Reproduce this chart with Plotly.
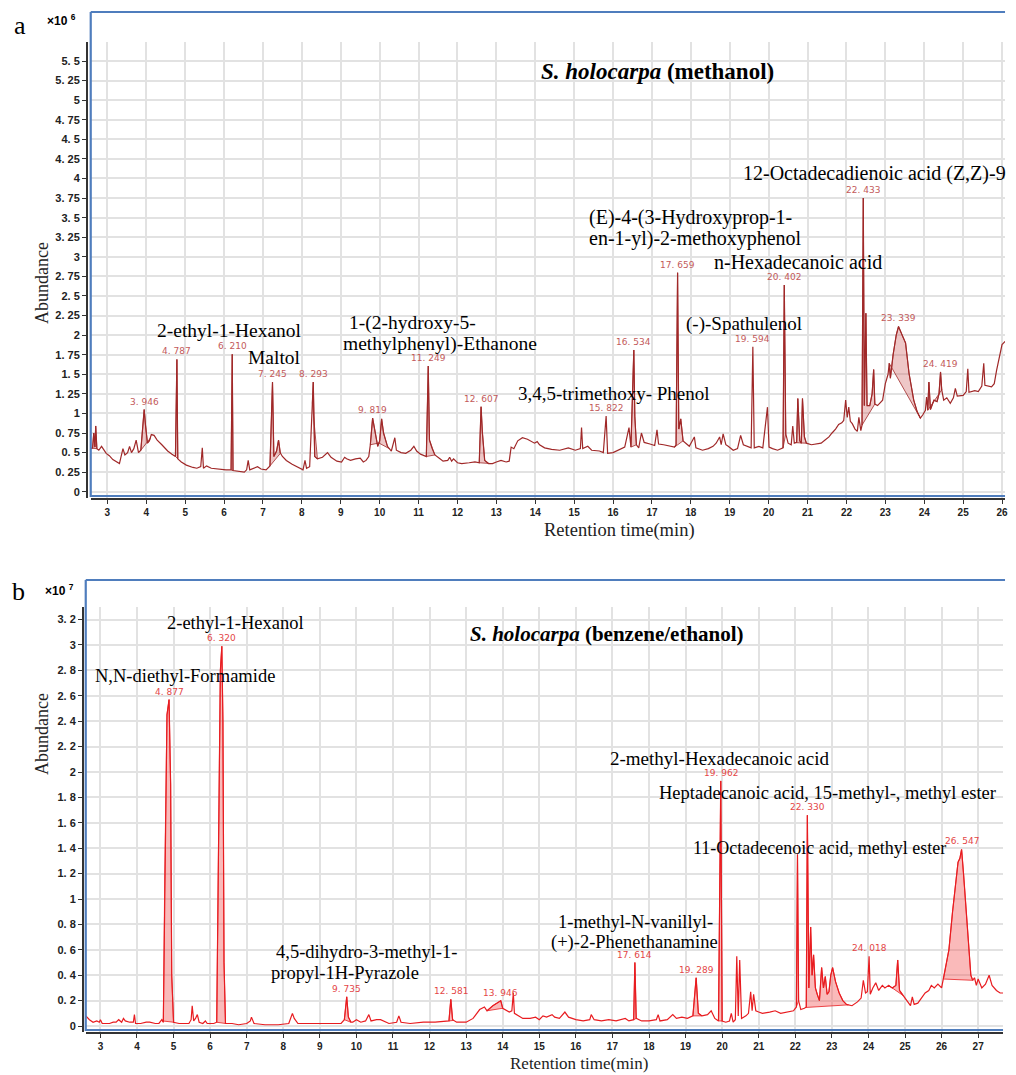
import numpy as np
import plotly.graph_objects as go

W, H = 1016, 1075

# ---------------- data: panel a (methanol) ----------------
t_a = [2.57, 2.62, 2.65, 2.68, 2.70, 2.73, 2.78, 2.85, 2.97, 3.05, 3.14, 3.25, 3.31, 3.40, 3.45, 3.52, 3.57,
       3.62, 3.68, 3.74, 3.80, 3.86, 3.90, 3.946, 3.98, 4.03, 4.08, 4.13, 4.20, 4.28, 4.40, 4.55, 4.66, 4.75,
       4.787, 4.81, 4.90, 5.03, 5.20, 5.30, 5.40, 5.44, 5.47, 5.55, 5.67, 5.80, 6.05, 6.18, 6.21, 6.23, 6.40,
       6.52, 6.58, 6.62, 6.66, 6.75, 6.86, 6.95, 7.08, 7.18, 7.245, 7.28, 7.35, 7.40, 7.44, 7.50, 7.60, 7.75,
       7.86, 8.03, 8.08, 8.12, 8.20, 8.293, 8.33, 8.40, 8.53, 8.66, 8.75, 8.90, 9.02, 9.10, 9.15, 9.25, 9.38,
       9.50, 9.58, 9.65, 9.72, 9.76, 9.819, 9.87, 9.95, 10.00, 10.05, 10.10, 10.20, 10.30, 10.39, 10.43, 10.55,
       10.67, 10.80, 10.88, 10.95, 11.05, 11.20, 11.249, 11.28, 11.35, 11.42, 11.55, 11.63, 11.75, 11.80, 11.85,
       11.90, 12.00, 12.11, 12.30, 12.45, 12.56, 12.607, 12.64, 12.70, 12.80, 12.90, 13.00, 13.12, 13.25, 13.33,
       13.38, 13.45, 13.55, 13.67, 13.80, 13.98, 14.05, 14.11, 14.24, 14.42, 14.63, 14.85, 15.03, 15.16, 15.19,
       15.22, 15.35, 15.45, 15.65, 15.75, 15.822, 15.86, 16.00, 16.12, 16.30, 16.41, 16.46, 16.534, 16.56, 16.60,
       16.66, 16.73, 16.80, 16.95, 17.07, 17.13, 17.17, 17.30, 17.45, 17.58, 17.62, 17.659, 17.69, 17.74, 17.80,
       17.90, 17.96, 18.09, 18.13, 18.30, 18.45, 18.57, 18.65, 18.74, 18.78, 18.83, 18.90, 18.96, 19.09, 19.20,
       19.28, 19.35, 19.45, 19.55, 19.594, 19.63, 19.75, 19.85, 19.97, 20.01, 20.10, 20.23, 20.37, 20.402, 20.44,
       20.50, 20.58, 20.62, 20.66, 20.72, 20.75, 20.80, 20.84, 20.87, 20.92, 20.97, 21.10, 21.19, 21.35, 21.45,
       21.55, 21.63, 21.72, 21.80, 21.88, 21.93, 21.98, 22.02, 22.06, 22.10, 22.15, 22.22, 22.28, 22.32, 22.37,
       22.40, 22.433, 22.46, 22.50, 22.53, 22.60, 22.66, 22.70, 22.73, 22.80, 22.93, 23.00, 23.07, 23.10, 23.13,
       23.20, 23.28, 23.339, 23.45, 23.52, 23.61, 23.73, 23.82, 23.90, 23.96, 24.03, 24.06, 24.09, 24.12, 24.16,
       24.25, 24.33, 24.38, 24.419, 24.45, 24.50, 24.58, 24.67, 24.75, 24.80, 24.85, 25.00, 25.08, 25.12, 25.15,
       25.30, 25.39, 25.48, 25.53, 25.56, 25.73, 25.80, 25.86, 25.93, 26.00, 26.08]
abund_a = [0.55, 0.56, 0.75, 0.57, 0.84, 0.55, 0.53, 0.58, 0.49, 0.46, 0.41, 0.38, 0.36, 0.55, 0.47, 0.50, 0.58,
           0.50, 0.55, 0.66, 0.50, 0.53, 0.80, 1.05, 0.85, 0.62, 0.65, 0.73, 0.72, 0.66, 0.60, 0.52, 0.48, 0.45,
           1.69, 0.42, 0.38, 0.34, 0.31, 0.30, 0.32, 0.56, 0.30, 0.33, 0.30, 0.29, 0.28, 0.28, 1.755, 0.27, 0.26,
           0.25, 0.28, 0.40, 0.28, 0.30, 0.32, 0.29, 0.28, 0.33, 1.40, 0.45, 0.52, 0.66, 0.50, 0.45, 0.40, 0.35,
           0.32, 0.28, 0.40, 0.30, 0.32, 1.40, 0.45, 0.42, 0.44, 0.50, 0.44, 0.39, 0.38, 0.44, 0.42, 0.40, 0.42,
           0.43, 0.38, 0.40, 0.45, 0.60, 0.94, 0.80, 0.58, 0.65, 0.93, 0.75, 0.58, 0.52, 0.69, 0.53, 0.50,
           0.49, 0.53, 0.58, 0.52, 0.48, 0.45, 1.605, 0.66, 0.55, 0.47, 0.42, 0.39, 0.40, 0.44, 0.39,
           0.42, 0.37, 0.36, 0.37, 0.38, 0.37, 1.086, 0.76, 0.40, 0.36, 0.36, 0.38, 0.40, 0.38, 0.39,
           0.57, 0.55, 0.65, 0.69, 0.67, 0.62, 0.64, 0.60, 0.56, 0.54, 0.53, 0.56, 0.53, 0.55, 0.82,
           0.55, 0.58, 0.53, 0.52, 0.50, 0.967, 0.49, 0.50, 0.53, 0.57, 0.82, 0.57, 1.81, 0.96, 0.60,
           0.56, 0.75, 0.63, 0.61, 0.59, 0.79, 0.61, 0.60, 0.58, 0.57, 0.60, 2.797, 0.80, 0.93, 0.65,
           0.60, 0.58, 0.70, 0.56, 0.53, 0.55, 0.58, 0.62, 0.70, 0.60, 0.74, 0.60, 0.58, 0.53, 0.55,
           0.72, 0.60, 0.58, 0.56, 1.85, 0.56, 0.58, 0.56, 1.08, 0.57, 0.55, 0.53, 0.56, 2.64, 0.74,
           0.62, 0.60, 0.84, 0.62, 0.63, 1.19, 0.65, 0.62, 1.19, 0.70, 0.62, 0.60, 0.61, 0.62, 0.66,
           0.70, 0.75, 0.80, 0.86, 0.88, 0.91, 1.17, 0.95, 1.08, 0.90, 0.87, 0.80, 0.77, 0.95, 0.78,
           0.85, 3.75, 1.10, 2.28, 1.10, 1.10, 1.25, 1.56, 1.12, 1.10, 1.17, 1.38, 1.50, 1.64, 1.45,
           1.75, 2.00, 2.11, 1.98, 1.90, 1.51, 1.17, 1.02, 0.94, 0.98, 1.04, 1.21, 1.04, 1.40, 1.05,
           1.17, 1.15, 1.25, 1.53, 1.30, 1.17, 1.20, 1.13, 1.20, 1.32, 1.22, 1.23, 1.28, 1.57, 1.27,
           1.29, 1.28, 1.35, 1.64, 1.36, 1.34, 1.38, 1.55, 1.72, 1.88, 1.92]
fill_start_a = [2.60, 3.86, 4.75, 6.18, 7.18, 8.27, 9.76, 9.98, 11.20, 12.56, 16.46, 17.58, 20.37, 20.70, 22.40, 23.10, 24.09]
fill_end_a = [2.73, 4.10, 4.82, 6.23, 7.45, 8.40, 9.98, 10.25, 11.42, 12.85, 16.60, 17.80, 20.44, 20.97, 22.73, 23.90, 24.45]
peak_rt_a = [3.946, 4.787, 6.210, 7.245, 8.293, 9.819, 11.249, 12.607, 15.822, 16.534, 17.659, 19.594, 20.402,
             22.433, 23.339, 24.419]
yticks_a = [i * 0.25 for i in range(23)]

# ---------------- data: panel b (benzene/ethanol) ----------------
t_b = [2.60, 2.70, 2.80, 2.90, 2.97, 3.00, 3.05, 3.25, 3.35, 3.43, 3.50, 3.58, 3.63, 3.68, 3.80, 3.90, 3.93,
       3.96, 4.10, 4.25, 4.35, 4.50, 4.60, 4.68, 4.72, 4.76, 4.82, 4.877, 4.92, 4.95, 5.00, 5.15, 5.30, 5.42,
       5.48, 5.51, 5.55, 5.60, 5.65, 5.70, 5.80, 5.87, 5.92, 6.10, 6.18, 6.23, 6.28, 6.32, 6.35, 6.38, 6.42,
       6.60, 6.78, 7.00, 7.10, 7.13, 7.20, 7.50, 7.86, 8.15, 8.25, 8.30, 8.40, 8.67, 8.90, 9.12, 9.40, 9.58,
       9.67, 9.735, 9.78, 9.85, 9.90, 10.00, 10.12, 10.25, 10.34, 10.40, 10.55, 10.66, 10.89, 11.10, 11.16,
       11.22, 11.47, 11.83, 12.15, 12.40, 12.53, 12.581, 12.63, 12.74, 13.00, 13.19, 13.37, 13.50, 13.57,
       13.73, 13.90, 13.946, 14.00, 14.10, 14.18, 14.25, 14.29, 14.32, 14.45, 14.55, 14.75, 14.90, 15.00,
       15.10, 15.20, 15.35, 15.42, 15.55, 15.70, 15.80, 16.00, 16.20, 16.38, 16.42, 16.50, 16.70, 16.90,
       17.10, 17.35, 17.45, 17.58, 17.614, 17.65, 17.80, 18.00, 18.20, 18.25, 18.30, 18.50, 18.65, 18.75,
       18.90, 19.05, 19.20, 19.289, 19.35, 19.45, 19.60, 19.70, 19.80, 19.90, 19.962, 20.00, 20.10, 20.20,
       20.25, 20.30, 20.36, 20.40, 20.44, 20.48, 20.53, 20.65, 20.72, 20.78, 20.82, 20.86, 20.92, 21.00,
       21.10, 21.30, 21.45, 21.60, 21.80, 21.95, 22.03, 22.06, 22.09, 22.15, 22.25, 22.30, 22.33, 22.37,
       22.42, 22.46, 22.50, 22.55, 22.60, 22.66, 22.72, 22.77, 22.82, 22.87, 22.92, 22.97, 23.02, 23.10,
       23.20, 23.30, 23.40, 23.55, 23.70, 23.80, 23.86, 23.92, 23.97, 24.018, 24.05, 24.12, 24.20, 24.28,
       24.38, 24.45, 24.55, 24.65, 24.75, 24.80, 24.85, 24.95, 25.05, 25.15, 25.20, 25.25, 25.35, 25.45,
       25.55, 25.65, 25.72, 25.80, 25.90, 26.00, 26.10, 26.20, 26.30, 26.40, 26.45, 26.50, 26.547, 26.60,
       26.68, 26.75, 26.80, 26.85, 26.90, 26.95, 27.00, 27.10, 27.20, 27.30, 27.38, 27.50, 27.60, 27.68]
abund_b = [0.08, 0.05, 0.03, 0.04, 0.03, 0.05, 0.02, 0.02, 0.03, 0.03, 0.05, 0.03, 0.06, 0.04, 0.03, 0.03, 0.09,
           0.02, 0.02, 0.03, 0.03, 0.02, 0.02, 0.05, 0.03, 1.20, 2.45, 2.57, 1.90, 0.40, 0.03, 0.02, 0.02, 0.02,
           0.05, 0.16, 0.04, 0.06, 0.09, 0.03, 0.02, 0.04, 0.02, 0.02, 0.03, 1.40, 2.80, 2.99, 2.40, 0.50, 0.02,
           0.02, 0.01, 0.02, 0.04, 0.07, 0.02, 0.01, 0.01, 0.02, 0.10, 0.06, 0.02, 0.02, 0.02, 0.02, 0.02, 0.02,
           0.05, 0.23, 0.07, 0.03, 0.03, 0.05, 0.03, 0.04, 0.09, 0.04, 0.05, 0.05, 0.02, 0.03, 0.08,
           0.03, 0.02, 0.03, 0.03, 0.04, 0.04, 0.21, 0.05, 0.03, 0.03, 0.06, 0.13, 0.15, 0.12,
           0.16, 0.19, 0.20, 0.14, 0.12, 0.11, 0.12, 0.26, 0.10, 0.08, 0.06, 0.06, 0.07, 0.05,
           0.08, 0.07, 0.09, 0.07, 0.06, 0.11, 0.07, 0.05, 0.04, 0.05, 0.09, 0.05, 0.04, 0.05,
           0.04, 0.06, 0.04, 0.05, 0.50, 0.06, 0.04, 0.04, 0.05, 0.09, 0.04, 0.05, 0.09, 0.06,
           0.07, 0.06, 0.08, 0.38, 0.10, 0.08, 0.09, 0.12, 0.06, 0.04, 1.93, 0.04, 0.03, 0.04,
           0.10, 0.03, 0.05, 0.55, 0.08, 0.52, 0.06, 0.08, 0.10, 0.27, 0.12, 0.25, 0.12, 0.11,
           0.10, 0.11, 0.12, 0.10, 0.11, 0.12, 0.15, 1.35, 0.20, 0.13, 0.14, 0.15, 1.66, 0.30,
           0.78, 0.40, 0.56, 0.30, 0.25, 0.20, 0.46, 0.30, 0.39, 0.25, 0.27, 0.40, 0.46, 0.35,
           0.26, 0.20, 0.17, 0.16, 0.19, 0.22, 0.36, 0.26, 0.27, 0.55, 0.25, 0.30, 0.34, 0.28,
           0.32, 0.30, 0.32, 0.30, 0.32, 0.52, 0.28, 0.24, 0.19, 0.16, 0.23, 0.17, 0.18, 0.22,
           0.26, 0.28, 0.32, 0.30, 0.33, 0.30, 0.44, 0.60, 0.90, 1.15, 1.29, 1.32, 1.39, 1.20,
           0.90, 0.62, 0.40, 0.36, 0.38, 0.32, 0.37, 0.30, 0.33, 0.40, 0.32, 0.28, 0.26, 0.26]
fill_start_b = [4.70, 6.18, 9.67, 12.53, 13.57, 17.58, 19.20, 19.90, 22.03, 22.28, 24.55, 26.05]
fill_end_b = [5.00, 6.42, 9.85, 12.66, 14.00, 17.65, 19.45, 20.00, 22.09, 23.45, 24.95, 26.85]
peak_rt_b = [4.877, 6.320, 9.735, 12.581, 13.946, 17.614, 19.289, 19.962, 22.330, 24.018, 26.547]
yticks_b = [round(i * 0.2, 1) for i in range(17)]

x_ticks_a = list(range(3, 27))
x_ticks_b = list(range(3, 28))


def px(x):
    return x / W


def py(y):
    return 1 - y / H


SERIF = "Liberation Serif, Times New Roman, serif"
SANS = "Liberation Sans, Arial, sans-serif"
LAB = "DejaVu Sans, Verdana, sans-serif"

col_a = "rgb(160,40,40)"
fill_a = "rgba(205,95,95,0.35)"
lab_a = "rgb(195,90,90)"
col_b = "rgb(232,28,32)"
fill_b = "rgba(242,90,90,0.42)"
lab_b = "rgb(228,70,70)"

fig = go.Figure()


def add_fills(t, v, starts, ends, color, line_color, xa, ya):
    t = np.asarray(t)
    v = np.asarray(v)
    for a, b in zip(starts, ends):
        va, vb = np.interp(a, t, v), np.interp(b, t, v)
        m = (t > a) & (t < b)
        xs = [a] + list(t[m]) + [b, a]
        ys = [va] + list(v[m]) + [vb, va]
        fig.add_trace(go.Scatter(x=xs, y=ys, mode="lines", fill="toself", fillcolor=color,
                                 line=dict(color=line_color, width=0.8), hoverinfo="skip",
                                 showlegend=False, xaxis=xa, yaxis=ya))


def tick_text(v):
    s = f"{v:g}"
    return s.replace(".", ". ")


add_fills(t_a, abund_a, fill_start_a, fill_end_a, fill_a, col_a, "x", "y")
fig.add_trace(go.Scatter(x=t_a, y=abund_a, mode="lines", line=dict(color=col_a, width=1.2),
                         showlegend=False, xaxis="x", yaxis="y"))
add_fills(t_b, abund_b, fill_start_b, fill_end_b, fill_b, col_b, "x2", "y2")
fig.add_trace(go.Scatter(x=t_b, y=abund_b, mode="lines", line=dict(color=col_b, width=1.2),
                         showlegend=False, xaxis="x2", yaxis="y2"))

grid = "#e2e2e2"
xtickfont = dict(family=SANS, size=10, color="#222", weight="bold")
ytickfont = dict(family=SANS, size=11, color="#222", weight="bold")
axline = "#333333"

fig.update_layout(
    width=W, height=H, autosize=False,
    margin=dict(l=0, r=0, t=0, b=0),
    paper_bgcolor="white", plot_bgcolor="white",
    showlegend=False,
    xaxis=dict(domain=[px(91), px(1008)], range=[2.572, 26.077], anchor="y",
               tickmode="array", tickvals=x_ticks_a, ticktext=[str(v) for v in x_ticks_a],
               ticks="outside", ticklen=4, tickcolor=axline, showline=True, linecolor=axline, linewidth=1.5,
               showgrid=True, gridcolor=grid, gridwidth=1.5, zeroline=False, tickfont=xtickfont),
    yaxis=dict(domain=[py(498), py(42)], range=[-0.08, 5.743], anchor="free", position=px(87),
               tickmode="array", tickvals=yticks_a, ticktext=[tick_text(v) for v in yticks_a],
               ticks="outside", ticklen=4, tickcolor=axline, showline=True, linecolor=axline, linewidth=1.5,
               showgrid=True, gridcolor=grid, gridwidth=1.5, zeroline=False, tickfont=ytickfont),
    xaxis2=dict(domain=[px(86), px(1006)], range=[2.599, 27.68], anchor="y2",
                tickmode="array", tickvals=x_ticks_b, ticktext=[str(v) for v in x_ticks_b],
                ticks="outside", ticklen=4, tickcolor=axline, showline=True, linecolor=axline, linewidth=1.5,
                showgrid=True, gridcolor=grid, gridwidth=1.5, zeroline=False, tickfont=xtickfont),
    yaxis2=dict(domain=[py(1032), py(607)], range=[-0.047, 3.299], anchor="free", position=px(83),
                tickmode="array", tickvals=yticks_b, ticktext=[tick_text(v) for v in yticks_b],
                ticks="outside", ticklen=4, tickcolor=axline, showline=True, linecolor=axline, linewidth=1.5,
                showgrid=True, gridcolor=grid, gridwidth=1.5, zeroline=False, tickfont=ytickfont),
)

# frames (blue borders)
blue = "rgb(79,125,189)"
frames = [
    (91, 12, 1008, 12), (91, 12, 91, 497), (91, 496, 1008, 496),
    (86, 580, 1008, 580), (86, 580, 86, 1031), (86, 1030, 1006, 1030),
]
for x0, y0, x1, y1 in frames:
    fig.add_shape(type="line", xref="paper", yref="paper", x0=px(x0), y0=py(y0), x1=px(x1), y1=py(y1),
                  line=dict(color=blue, width=2.2))

ann = []


def text(s, x, y, size=19.5, xanchor="center", color="black", family=SERIF, yanchor="middle"):
    ann.append(dict(text=s, x=px(x), y=py(y), xref="paper", yref="paper", showarrow=False,
                    xanchor=xanchor, yanchor=yanchor, font=dict(family=family, size=size, color=color)))


# panel letters, exponents, axis titles
text("a", 20, 25, size=26)
text("b", 19, 591, size=26)
text("<b>×10 <sup>6</sup></b>", 45, 20, size=12, xanchor="left", family=SANS)
text("<b>×10 <sup>7</sup></b>", 43, 590, size=12, xanchor="left", family=SANS)
ann.append(dict(text="Abundance", x=px(30), y=py(240), xref="paper", yref="paper", showarrow=False,
                textangle=-90, font=dict(family=SERIF, size=18, color="#222")))
ann.append(dict(text="Abundance", x=px(30), y=py(777), xref="paper", yref="paper", showarrow=False,
                textangle=-90, font=dict(family=SERIF, size=18, color="#222")))
text("Retention time(min)", 621, 530, size=18.5, color="#222")
text("Retention time(min)", 581, 1063, size=17, color="#222")

# titles
text("<b><i>S. holocarpa</i> (methanol)</b>", 659, 72, size=23)
text("<b><i>S. holocarpa</i> (benzene/ethanol)</b>", 609, 634, size=21)

# compound names, panel a
text("2-ethyl-1-Hexanol", 230, 331)
text("Maltol", 275, 358, size=19.5)
text("1-(2-hydroxy-5-", 348, 323, xanchor="left")
text("methylphenyl)-Ethanone", 342, 344, xanchor="left")
text("3,4,5-trimethoxy- Phenol", 616, 394, size=19)
text("(E)-4-(3-Hydroxyprop-1-", 589, 217, xanchor="left", size=20)
text("en-1-yl)-2-methoxyphenol", 589, 238, xanchor="left", size=20)
text("n-Hexadecanoic acid", 800, 262, size=20)
text("(-)-Spathulenol", 746, 324, size=19)
text("12-Octadecadienoic acid (Z,Z)-9", 743, 173, xanchor="left", size=20)

# compound names, panel b
text("2-ethyl-1-Hexanol", 236, 623, size=18.5)
text("N,N-diethyl-Formamide", 186, 676, size=18.5)
text("4,5-dihydro-3-methyl-1-", 275, 952, xanchor="left", size=18.5)
text("propyl-1H-Pyrazole", 270, 973, xanchor="left", size=18.5)
text("1-methyl-N-vanillyl-", 637, 922, size=18.5)
text("(+)-2-Phenethanamine", 636, 942, size=18.5)
text("2-methyl-Hexadecanoic acid", 722, 758, size=19)
text("Heptadecanoic acid, 15-methyl-, methyl ester", 830, 793, size=18.5)
text("11-Octadecenoic acid, methyl ester", 822, 848, size=18)


def fmt_rt(r):
    s = f"{r:.3f}"
    a, b = s.split(".")
    return f"{a}. {b}"


for r in peak_rt_a:
    ann.append(dict(text=fmt_rt(r), x=r, y=float(np.interp(r, t_a, abund_a)), xref="x", yref="y",
                    showarrow=False, yanchor="bottom", yshift=1,
                    font=dict(family=LAB, size=9, color=lab_a)))
for r in peak_rt_b:
    ann.append(dict(text=fmt_rt(r), x=r, y=float(np.interp(r, t_b, abund_b)), xref="x2", yref="y2",
                    showarrow=False, yanchor="bottom", yshift=1,
                    font=dict(family=LAB, size=9, color=lab_b)))

fig.update_layout(annotations=ann)
fig.write_html("out.html", config={"displayModeBar": False},
               post_script="document.body.style.margin='0px';")
